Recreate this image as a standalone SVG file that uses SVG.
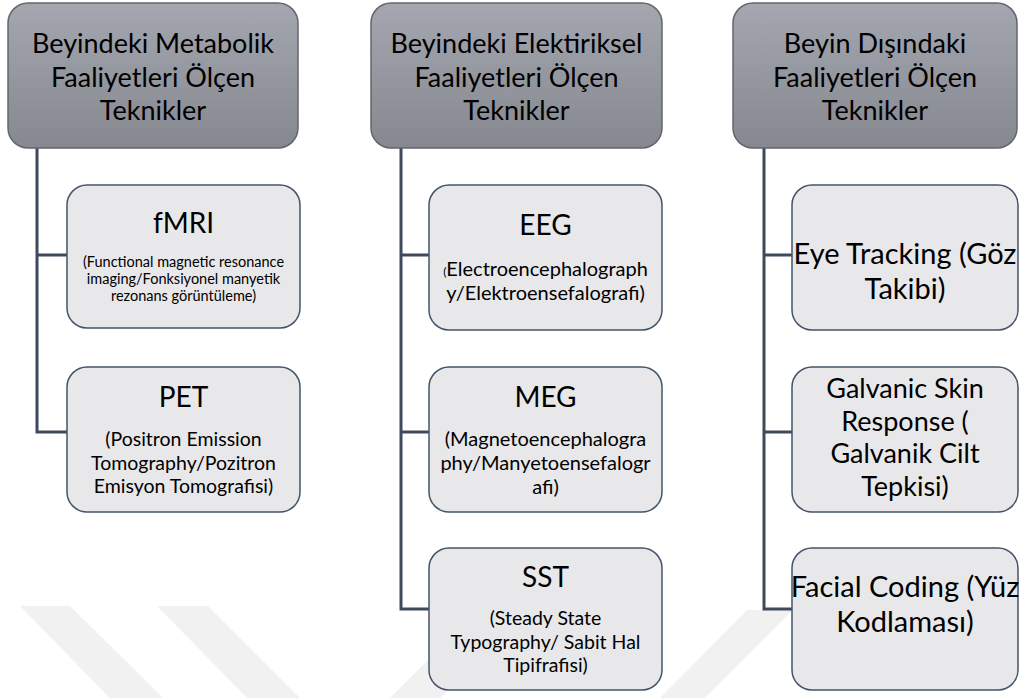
<svg xmlns="http://www.w3.org/2000/svg" width="1019" height="698" viewBox="0 0 1019 698">
<defs>
<linearGradient id="hg" x1="0" y1="0" x2="0" y2="1">
<stop offset="0" stop-color="#a4a7af"/>
<stop offset="1" stop-color="#85888f"/>
</linearGradient>
<style>
.hdr{fill:url(#hg);stroke:#63666d;stroke-width:1.5}
.box{fill:#e8e8ea;stroke:#44546a;stroke-width:1.5}
.con{fill:none;stroke:#3e4a5b;stroke-width:3}
text{font-family:Lato,"Liberation Sans",sans-serif;fill:#000;text-anchor:middle}
.h{font-size:27px}
.t{font-size:28px}
.s{font-size:19.5px}
.r{font-size:29px}
.wm{fill:#f1f1f1}
</style>
</defs>
<rect width="1019" height="698" fill="#fff"/>
<g id="watermark">
<polygon class="wm" points="20,606 70,606 163,698 110,698"/>
<polygon class="wm" points="157,606 208,606 300,698 247,698"/>
<polygon class="wm" points="390,698 440,698 530,608 480,608"/>
<polygon class="wm" points="660,698 705,698 793,610 747,610"/>
</g>
<g id="connectors">
<path class="con" d="M37,148 V432 H67 M37,255 H67"/>
<path class="con" d="M401,148 V609 H429 M401,255 H429 M401,432 H429"/>
<path class="con" d="M764,148 V609 H792 M764,255 H792 M764,432 H792"/>
</g>
<g id="h1">
<rect class="hdr" x="8" y="3" width="290" height="145" rx="20"/>
<text class="h" x="153" y="53">Beyindeki Metabolik</text>
<text class="h" x="153" y="86.5">Faaliyetleri Ölçen</text>
<text class="h" x="153" y="120">Teknikler</text>
</g>
<g id="h2">
<rect class="hdr" x="371" y="3" width="291" height="145" rx="20"/>
<text class="h" x="516.5" y="53">Beyindeki Elektiriksel</text>
<text class="h" x="516.5" y="86.5">Faaliyetleri Ölçen</text>
<text class="h" x="516.5" y="120">Teknikler</text>
</g>
<g id="h3">
<rect class="hdr" x="733" y="3" width="284" height="145" rx="20"/>
<text class="h" x="875" y="53">Beyin Dışındaki</text>
<text class="h" x="875" y="86.5">Faaliyetleri Ölçen</text>
<text class="h" x="875" y="120">Teknikler</text>
</g>
<g id="fmri">
<rect class="box" x="67" y="185" width="233" height="143" rx="20"/>
<text class="t" x="183.5" y="233">fMRI</text>
<text x="183.5" y="267" font-size="14.5">(Functional magnetic resonance</text>
<text x="183.5" y="284" font-size="14.5">imaging/Fonksiyonel manyetik</text>
<text x="183.5" y="301" font-size="14.5">rezonans görüntüleme)</text>
</g>
<g id="pet">
<rect class="box" x="67" y="367" width="233" height="145" rx="20"/>
<text class="t" x="183.5" y="407">PET</text>
<text class="s" x="183.5" y="446">(Positron Emission</text>
<text class="s" x="183.5" y="469.5">Tomography/Pozitron</text>
<text class="s" x="183.5" y="493">Emisyon Tomografisi)</text>
</g>
<g id="eeg">
<rect class="box" x="429" y="185" width="233" height="145" rx="20"/>
<text class="t" x="545.5" y="235">EEG</text>
<text x="545.5" y="276" font-size="20"><tspan font-size="12">(</tspan>Electroencephalograph</text>
<text x="545.5" y="300" font-size="20">y/Elektroensefalografi)</text>
</g>
<g id="meg">
<rect class="box" x="429" y="367" width="233" height="145" rx="20"/>
<text class="t" x="545.5" y="407">MEG</text>
<text x="545.5" y="446" font-size="20">(Magnetoencephalogra</text>
<text x="545.5" y="470" font-size="20">phy/Manyetoensefalogr</text>
<text x="545.5" y="494" font-size="20">afi)</text>
</g>
<g id="sst">
<rect class="box" x="429" y="548" width="233" height="142" rx="20"/>
<text class="t" x="545.5" y="587">SST</text>
<text class="s" x="545.5" y="625">(Steady State</text>
<text class="s" x="545.5" y="648.5">Typography/ Sabit Hal</text>
<text class="s" x="545.5" y="672">Tipifrafisi)</text>
</g>
<g id="eye">
<rect class="box" x="792" y="185" width="226" height="145" rx="20"/>
<text class="r" x="905" y="264">Eye Tracking (Göz</text>
<text class="r" x="905" y="299">Takibi)</text>
</g>
<g id="gsr">
<rect class="box" x="792" y="367" width="226" height="145" rx="20"/>
<text x="905" y="398" font-size="27">Galvanic Skin</text>
<text x="905" y="430.5" font-size="27">Response (</text>
<text x="905" y="463" font-size="27">Galvanik Cilt</text>
<text x="905" y="495.5" font-size="27">Tepkisi)</text>
</g>
<g id="facial">
<rect class="box" x="792" y="548" width="226" height="142" rx="20"/>
<text class="r" x="905" y="597">Facial Coding (Yüz</text>
<text class="r" x="905" y="632">Kodlaması)</text>
</g>
</svg>
